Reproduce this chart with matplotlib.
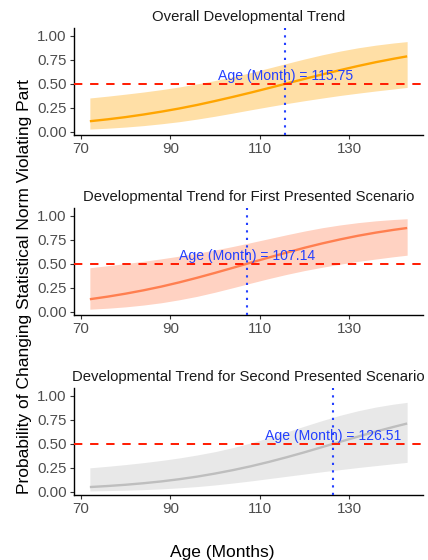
import matplotlib
matplotlib.use("Agg")
import matplotlib.pyplot as plt

plt.rcParams['font.family'] = ['Liberation Sans', 'DejaVu Sans']
plt.rcParams['lines.scale_dashes'] = False

# ---------------- data ----------------
age = [72, 76, 80, 84, 88, 92, 96, 100, 104, 108, 112, 116, 120, 124, 128, 132, 136, 140, 143]

overall_fit = [0.109, 0.129, 0.152, 0.179, 0.209, 0.242, 0.279, 0.320, 0.363, 0.408,
               0.455, 0.503, 0.551, 0.598, 0.643, 0.686, 0.726, 0.762, 0.787]
overall_lo = [0.027, 0.036, 0.048, 0.063, 0.082, 0.104, 0.131, 0.161, 0.194, 0.228,
              0.261, 0.293, 0.323, 0.351, 0.378, 0.402, 0.425, 0.446, 0.462]
overall_hi = [0.352, 0.371, 0.392, 0.414, 0.439, 0.467, 0.499, 0.534, 0.574, 0.617,
              0.664, 0.712, 0.759, 0.803, 0.842, 0.876, 0.904, 0.927, 0.941]

first_fit = [0.130, 0.157, 0.188, 0.223, 0.262, 0.306, 0.354, 0.405, 0.458, 0.512,
             0.565, 0.617, 0.667, 0.713, 0.755, 0.793, 0.826, 0.855, 0.874]
first_lo = [0.026, 0.036, 0.050, 0.069, 0.093, 0.124, 0.160, 0.203, 0.250, 0.298,
            0.345, 0.389, 0.429, 0.464, 0.496, 0.525, 0.550, 0.574, 0.590]
first_hi = [0.459, 0.480, 0.502, 0.526, 0.552, 0.580, 0.611, 0.644, 0.681, 0.721,
            0.762, 0.803, 0.842, 0.877, 0.906, 0.930, 0.949, 0.963, 0.971]

second_fit = [0.048, 0.059, 0.072, 0.088, 0.107, 0.130, 0.157, 0.189, 0.225, 0.265,
              0.310, 0.359, 0.411, 0.466, 0.521, 0.575, 0.628, 0.677, 0.712]
second_lo = [0.007, 0.011, 0.015, 0.021, 0.029, 0.040, 0.053, 0.070, 0.090, 0.112,
             0.136, 0.160, 0.184, 0.208, 0.230, 0.252, 0.272, 0.292, 0.306]
second_hi = [0.249, 0.265, 0.283, 0.303, 0.326, 0.352, 0.383, 0.418, 0.460, 0.509,
             0.563, 0.623, 0.684, 0.743, 0.798, 0.845, 0.884, 0.915, 0.933]

threshold_age = [115.75, 107.14, 126.51]
titles = ["Overall Developmental Trend",
          "Developmental Trend for First Presented Scenario",
          "Developmental Trend for Second Presented Scenario"]
x_ticks = [70, 90, 110, 130]
y_ticks = [0.00, 0.25, 0.50, 0.75, 1.00]
y_tick_labels = ["0.00", "0.25", "0.50", "0.75", "1.00"]

panels = [(overall_fit, overall_lo, overall_hi),
          (first_fit, first_lo, first_hi),
          (second_fit, second_lo, second_hi)]
line_colors = ["#FFA500", "#FF7F50", "#BEBEBE"]

# ---------------- figure ----------------
W, H = 428, 560
fig = plt.figure(figsize=(W / 100, H / 100), dpi=100)

left, right = 74 / W, 423 / W
tops = [28.3, 208.3, 388.3]
bottoms = [135.0, 315.0, 495.0]

for i, (fit, lo, hi) in enumerate(panels):
    ax = fig.add_axes([left, 1 - bottoms[i] / H, right - left, (bottoms[i] - tops[i]) / H])
    col = line_colors[i]
    ax.fill_between(age, lo, hi, color=col, alpha=0.35, linewidth=0, zorder=1)
    ax.plot(age, fit, color=col, linewidth=1.7, zorder=2, solid_capstyle='butt')
    ax.axhline(0.5, color="#FF1A00", linewidth=1.4, dashes=(6.0, 5.6), zorder=3)
    ax.text(threshold_age[i], 0.58, f"Age (Month) = {threshold_age[i]:.2f}",
            color="#2440FF", fontsize=10.1, ha="center", va="center", zorder=4)
    ax.axvline(threshold_age[i], color="#2440FF", linewidth=1.5, dashes=(1.6, 3.8), zorder=5)

    ax.set_xlim(68.45, 146.55)
    ax.set_ylim(-0.035, 1.08)
    ax.set_xticks(x_ticks)
    ax.set_xticklabels([str(t) for t in x_ticks])
    ax.set_yticks(y_ticks)
    ax.set_yticklabels(y_tick_labels)
    for s in ["top", "right"]:
        ax.spines[s].set_visible(False)
    for s in ["left", "bottom"]:
        ax.spines[s].set_linewidth(1.0)
        ax.spines[s].set_color("black")
    ax.tick_params(axis="both", length=3.0, width=0.8, color="#333333",
                   labelsize=10.8, labelcolor="#4D4D4D", pad=2.2)
    ax.set_facecolor("white")
    ax.set_title(titles[i], fontsize=10.7, color="#1A1A1A", pad=5.0)

fig.text(25 / W, 1 - 287 / H, "Probability of Changing Statistical Norm Violating Part",
         rotation=90, ha="center", va="center", fontsize=12.5, color="black")
fig.text(222 / W, 1 - 552 / H, "Age (Months)", ha="center", va="center",
         fontsize=12.5, color="black")

fig.savefig("out.png", dpi=100)
